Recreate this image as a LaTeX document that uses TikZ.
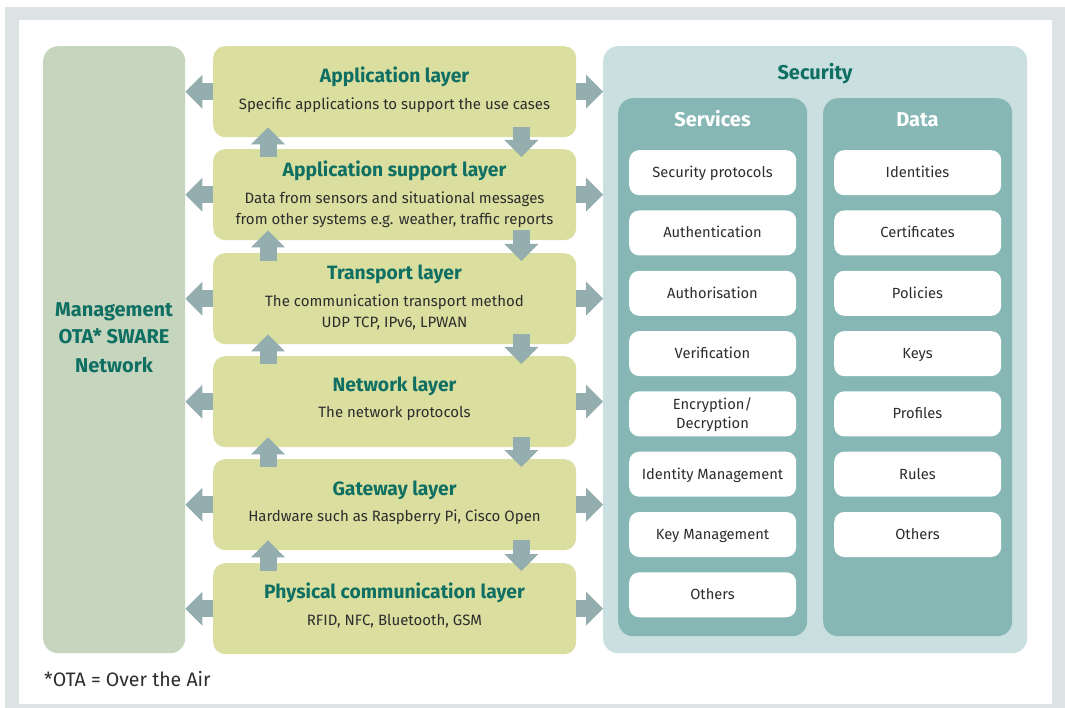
\documentclass[tikz,border=0pt]{standalone}
\usepackage{fontspec}
\setmainfont{Fira Sans}
\usetikzlibrary{arrows.meta,calc}
\definecolor{framegray}{HTML}{DDE3E5}
\definecolor{mgmtc}{HTML}{C6D5BD}
\definecolor{layerc}{HTML}{DADF9F}
\definecolor{arrowc}{HTML}{94ADAE}
\definecolor{secc}{HTML}{C9DFE0}
\definecolor{panelc}{HTML}{86B7B5}
\definecolor{teal}{HTML}{0F6F63}
\definecolor{txt}{HTML}{2D2D2D}
\tikzset{
  box/.style={rectangle, inner sep=0pt, anchor=north west},
  layer/.style={box, fill=layerc, rounded corners=12pt, minimum width=363pt, minimum height=91pt},
  wbox/.style={box, fill=white, rounded corners=10pt, minimum width=167pt, minimum height=45pt},
  ttl/.style={anchor=base, text=teal, font=\fontsize{19.3}{22}\selectfont\bfseries, inner sep=0pt},
  mtl/.style={anchor=base, text=teal, font=\fontsize{20}{22}\selectfont\bfseries, inner sep=0pt},
  body/.style={anchor=base, text=txt, font=\fontsize{15}{17}\selectfont, inner sep=0pt},
  wtxt/.style={anchor=base, text=txt, font=\fontsize{14.7}{17}\selectfont, inner sep=0pt},
  ptl/.style={anchor=base, text=white, font=\fontsize{20}{22}\selectfont\bfseries, inner sep=0pt},
  blockarrow/.style={draw=arrowc, line width=17pt, -{Triangle[width=33pt,length=17pt]}, arrowc}
}
\begin{document}
\begin{tikzpicture}[x=1pt,y=-1pt]
\useasboundingbox (0,0) rectangle (1065,708);
\fill[framegray] (5,7) rectangle (1065,708);
\fill[white] (19,20) rectangle (1052,704);

% management
\node[box, fill=mgmtc, rounded corners=15pt, minimum width=142pt, minimum height=607pt] (mgmt) at (43,46) {};
\node[mtl] (m1) at (114,317) {Management};
\node[mtl] (m2) at (114,344) {OTA* SWARE};
\node[mtl] (m3) at (114,372) {Network};

% security
\node[box, fill=secc, rounded corners=15pt, minimum width=424pt, minimum height=607pt] (sec) at (603,46) {};
\node[mtl] (sect) at (815,80) {Security};
\node[box, fill=panelc, rounded corners=15pt, minimum width=189pt, minimum height=538pt] (serv) at (618,98) {};
\node[box, fill=panelc, rounded corners=15pt, minimum width=189pt, minimum height=538pt] (data) at (823,98) {};
\node[ptl] (servt) at (712.5,127) {Services};
\node[ptl] (datat) at (917.5,127) {Data};

% services boxes
\node[wbox] (s1) at (629,150.0) {};
\node[wbox] (s2) at (629,210.3) {};
\node[wbox] (s3) at (629,270.6) {};
\node[wbox] (s4) at (629,330.9) {};
\node[wbox] (s5) at (629,391.2) {};
\node[wbox] (s6) at (629,451.5) {};
\node[wbox] (s7) at (629,511.8) {};
\node[wbox] (s8) at (629,572.1) {};
\node[wtxt] (s1t) at (712.5,177.5) {Security protocols};
\node[wtxt] (s2t) at (712.5,237.8) {Authentication};
\node[wtxt] (s3t) at (712.5,298.1) {Authorisation};
\node[wtxt] (s4t) at (712.5,358.4) {Verification};
\node[wtxt] (s5ta) at (712.5,409) {Encryption/};
\node[wtxt] (s5tb) at (712.5,428) {Decryption};
\node[wtxt] (s6t) at (712.5,479) {Identity Management};
\node[wtxt] (s7t) at (712.5,539.3) {Key Management};
\node[wtxt] (s8t) at (712.5,599.6) {Others};

% data boxes
\node[wbox] (d1) at (834,150.0) {};
\node[wbox] (d2) at (834,210.3) {};
\node[wbox] (d3) at (834,270.6) {};
\node[wbox] (d4) at (834,330.9) {};
\node[wbox] (d5) at (834,391.2) {};
\node[wbox] (d6) at (834,451.5) {};
\node[wbox] (d7) at (834,511.8) {};
\node[wtxt] (d1t) at (917.5,177.5) {Identities};
\node[wtxt] (d2t) at (917.5,237.8) {Certificates};
\node[wtxt] (d3t) at (917.5,298.1) {Policies};
\node[wtxt] (d4t) at (917.5,358.4) {Keys};
\node[wtxt] (d5t) at (917.5,418.7) {Profiles};
\node[wtxt] (d6t) at (917.5,479) {Rules};
\node[wtxt] (d7t) at (917.5,539.3) {Others};

% layers
\node[layer] (L1) at (213,46) {};
\node[layer] (L2) at (213,149) {};
\node[layer] (L3) at (213,253) {};
\node[layer] (L4) at (213,356) {};
\node[layer] (L5) at (213,459) {};
\node[layer] (L6) at (213,563) {};

\node[ttl] (L1t) at (394.5,83) {Application layer};
\node[body] (L1b) at (394.5,110) {Specific applications to support the use cases};
\node[ttl] (L2t) at (394.5,177) {Application support layer};
\node[body] (L2b) at (394.5,204) {Data from sensors and situational messages};
\node[body] (L2c) at (394.5,224.5) {from other systems e.g. weather, traffic reports};
\node[ttl] (L3t) at (394.5,280) {Transport layer};
\node[body] (L3b) at (394.5,307) {The communication transport method};
\node[body] (L3c) at (394.5,327.5) {UDP TCP, IPv6, LPWAN};
\node[ttl] (L4t) at (394.5,391) {Network layer};
\node[body] (L4b) at (394.5,417.5) {The network protocols};
\node[ttl] (L5t) at (394.5,495) {Gateway layer};
\node[body] (L5b) at (394.5,521.5) {Hardware such as Raspberry Pi, Cisco Open};
\node[ttl] (L6t) at (394.5,598) {Physical communication layer};
\node[body] (L6b) at (394.5,625) {RFID, NFC, Bluetooth, GSM};

% left and right arrows
\foreach \n in {L1,L2,L3,L4,L5,L6}{
  \draw[blockarrow] (\n.west) -- (mgmt.east |- \n.west);
  \draw[blockarrow] (\n.east) -- (sec.west |- \n.east);
}
% up and down arrows
\foreach \a/\b in {L1/L2,L2/L3,L3/L4,L4/L5,L5/L6}{
  \draw[blockarrow] ([xshift=55pt,yshift=-8pt]\b.north west) -- ([xshift=55pt,yshift=10pt]\a.south west);
  \draw[blockarrow] ([xshift=-55pt,yshift=10pt]\a.south east) -- ([xshift=-55pt,yshift=-8pt]\b.north east);
}

\node[anchor=base west, text=txt, font=\fontsize{19.5}{22}\selectfont, inner sep=0pt] (foot) at (44,686) {*OTA = Over the Air};
\end{tikzpicture}
\end{document}
